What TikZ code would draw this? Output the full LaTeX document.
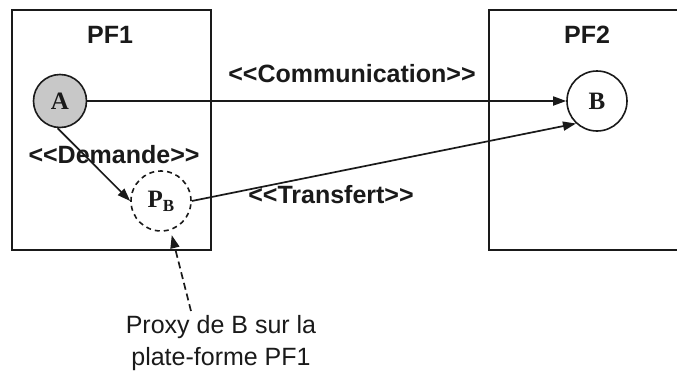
\documentclass[tikz,border=0pt]{standalone}
\usepackage{fontspec}
\setmainfont{Liberation Serif}
\setsansfont{Liberation Sans}
\usetikzlibrary{arrows.meta}
\definecolor{ink}{HTML}{1A1A1A}
\definecolor{agentgray}{HTML}{C8C8C8}
\newcommand{\stl}{{<}{<}}
\newcommand{\str}{{>}{>}}
\begin{document}
\begin{tikzpicture}[x=1pt,y=-1pt,
  platform/.style={draw=ink, line width=2.2pt},
  agent/.style={circle, draw=ink, line width=1.6pt, inner sep=0pt,
    font=\fontsize{25}{25}\selectfont\bfseries, text=ink},
  stereo/.style={font=\sffamily\bfseries\fontsize{25}{28}\selectfont, text=ink,
    inner sep=0pt, anchor=base},
  link/.style={draw=ink, line width=1.7pt, -{Triangle[length=13pt,width=9pt]}},
]
\useasboundingbox (0,0) rectangle (677,375);
\fill[white] (0,0) rectangle (677,375);

% platforms
\draw[platform] (12,10) rectangle (211,250);
\draw[platform] (677,10) -- (489,10) -- (489,250) -- (677,250);
\node[stereo] (pf1) at (110,43) {PF1};
\node[stereo] (pf2) at (587,43) {PF2};

% agents
\node[agent, fill=agentgray, minimum size=53pt] (A) at (60,101) {A};
\node[agent, minimum size=60pt] (B) at (597,101) {B};
\node[agent, dash pattern=on 5pt off 4pt, minimum size=60pt] (PB) at (161,201)
  {P\raisebox{-.35ex}{\fontsize{17}{17}\selectfont B}};

% interactions
\draw[link] (A.east) -- (B.west);
\draw[link] (A.-95) -- (PB.west);
\draw[link] (PB.east) -- (B.227);

\node[stereo] (comm) at (352,82) {\stl Communication\str};
\node[stereo] (dem) at (114,163) {\stl Demande\str};
\node[stereo] (trans) at (331,203) {\stl Transfert\str};

% proxy annotation
\node[font=\sffamily\fontsize{25}{32}\selectfont, text=ink, align=center,
  anchor=base, inner sep=0pt] (note) at (221,365) {Proxy de B sur la\\plate-forme PF1};
\coordinate (tail) at (191,311);
\draw[link, dash pattern=on 7pt off 4pt, shorten >=5pt] (tail) -- (PB.-72);
\end{tikzpicture}
\end{document}
